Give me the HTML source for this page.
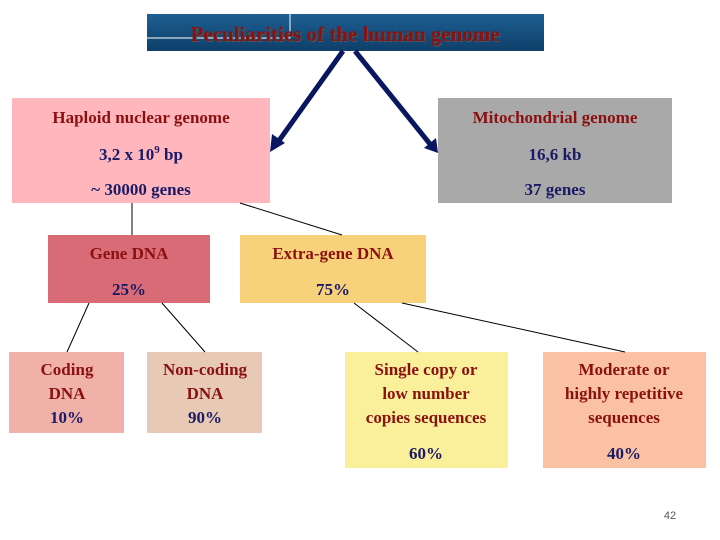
<!DOCTYPE html>
<html><head><meta charset="utf-8"><style>
html,body{margin:0;padding:0;background:#fff;}
svg{display:block}
text{font-family:"Liberation Serif",serif;font-weight:bold;font-size:17px;text-anchor:middle}
.r{fill:#8b1010}.b{fill:#1a1a66}
</style></head><body>
<svg width="720" height="540" viewBox="0 0 720 540">
<defs><linearGradient id="g" x1="0" y1="0" x2="0" y2="1"><stop offset="0" stop-color="#1d5f92"/><stop offset="1" stop-color="#0f3f6a"/></linearGradient></defs>
<rect x="147" y="14" width="397" height="37" fill="url(#g)"/>
<line x1="147" y1="38" x2="290" y2="38" stroke="#fff" stroke-width="1"/>
<line x1="290" y1="14" x2="290" y2="38" stroke="#fff" stroke-width="1"/>
<text x="346" y="42" style="font-size:21px;fill:#555" >Peculiarities of the human genome</text>
<text x="345" y="41" style="font-size:21px" class="r">Peculiarities of the human genome</text>

<rect x="12" y="98" width="258" height="105" fill="#ffb6bc"/>
<rect x="438" y="98" width="234" height="105" fill="#a9a9a9"/>
<rect x="48" y="235" width="162" height="68" fill="#d96b76"/>
<rect x="240" y="235" width="186" height="68" fill="#f8d27a"/>
<rect x="9" y="352" width="115" height="81" fill="#f0b2a8"/>
<rect x="147" y="352" width="115" height="81" fill="#e8c9b5"/>
<rect x="345" y="352" width="163" height="116" fill="#faef9a"/>
<rect x="543" y="352" width="163" height="116" fill="#fac2a2"/>

<g stroke="#000" stroke-width="1">
<line x1="132" y1="203" x2="132" y2="235"/>
<line x1="240" y1="203" x2="342" y2="235"/>
<line x1="89" y1="303" x2="67" y2="352"/>
<line x1="162" y1="303" x2="205" y2="352"/>
<line x1="354" y1="303" x2="418" y2="352"/>
<line x1="402" y1="303" x2="625" y2="352"/>
</g>
<g stroke="#0a1660" stroke-width="5">
<line x1="343" y1="51" x2="278" y2="142"/>
<line x1="355" y1="51" x2="430" y2="144"/>
</g>
<polygon points="270,152 272,134 285,143" fill="#0a1660"/>
<polygon points="438,153 424,148 436,138" fill="#0a1660"/>

<text x="141" y="123" class="r">Haploid nuclear genome</text>
<text x="141" y="160" class="b">3,2 x 10<tspan dy="-7" style="font-size:11px">9</tspan><tspan dy="7"> bp</tspan></text>
<text x="141" y="195" class="b">~ 30000 genes</text>
<text x="555" y="123" class="r">Mitochondrial genome</text>
<text x="555" y="160" class="b">16,6 kb</text>
<text x="555" y="195" class="b">37 genes</text>
<text x="129" y="259" class="r">Gene DNA</text>
<text x="129" y="295" class="b">25%</text>
<text x="333" y="259" class="r">Extra-gene DNA</text>
<text x="333" y="295" class="b">75%</text>
<text x="67" y="375" class="r">Coding</text>
<text x="67" y="399" class="r">DNA</text>
<text x="67" y="423" class="b">10%</text>
<text x="205" y="375" class="r">Non-coding</text>
<text x="205" y="399" class="r">DNA</text>
<text x="205" y="423" class="b">90%</text>
<text x="426" y="375" class="r">Single copy or</text>
<text x="426" y="399" class="r">low number</text>
<text x="426" y="423" class="r">copies sequences</text>
<text x="426" y="459" class="b">60%</text>
<text x="624" y="375" class="r">Moderate or</text>
<text x="624" y="399" class="r">highly repetitive</text>
<text x="624" y="423" class="r">sequences</text>
<text x="624" y="459" class="b">40%</text>
<text x="670" y="519" style="font-family:'Liberation Sans',sans-serif;font-weight:normal;font-size:11px;fill:#555">42</text>
</svg>
</body></html>
